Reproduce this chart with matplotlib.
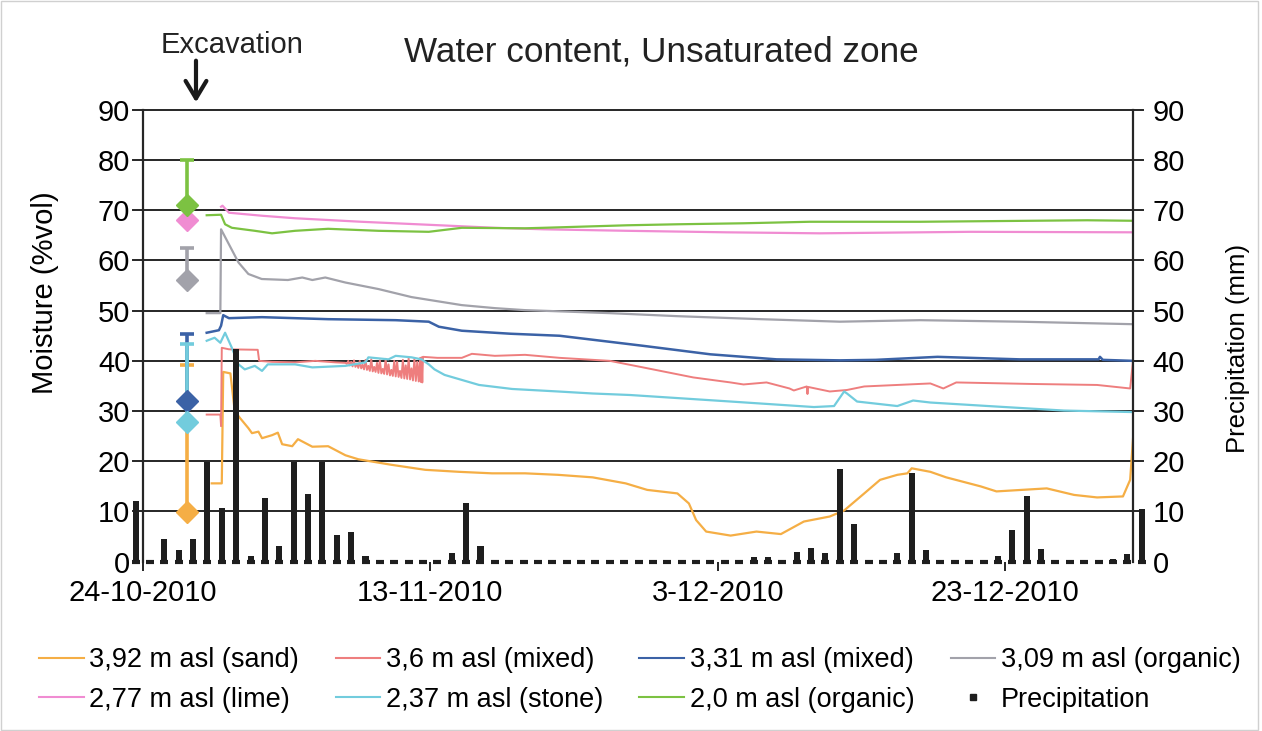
import numpy as np
import matplotlib
matplotlib.use('Agg')
import matplotlib.pyplot as plt
from matplotlib.lines import Line2D
from matplotlib.patches import Rectangle

plt.rcParams['font.family'] = ['Liberation Sans', 'DejaVu Sans']

# x = days after 24-10-2010
tick_days = [0, 20, 40, 60]
tick_labels = ['24-10-2010', '13-11-2010', '3-12-2010', '23-12-2010']

# daily precipitation (mm), one value per day starting the day before 24-10
precip = [12.0, 0, 4.6, 2.4, 4.6, 19.9, 10.6, 42.4, 1.1, 12.6, 3.2, 19.9, 13.5, 19.9, 5.4, 6.0, 1.1,
          0, 0, 0, 0, 0, 1.7, 11.7, 3.1,
          0, 0, 0, 0, 0, 0, 0, 0, 0, 0, 0, 0, 0, 0, 0, 0, 0, 0,
          1.0, 1.0, 0, 2.0, 2.8, 1.8, 18.5, 7.6, 0, 0, 1.7, 17.7, 2.3,
          0, 0, 0, 0, 1.1, 6.4, 13.0, 2.6, 0, 0, 0, 0, 0.5, 1.5, 10.5]
precip_days = np.arange(len(precip)) - 0.5

sand_d = [4.8, 5.5, 5.6, 6.1, 6.4, 6.77, 7.35, 7.6, 8.05, 8.3, 9.0, 9.4, 9.7, 10.4, 10.8, 11.8, 12.9,
          14.1, 15.0, 17.3, 19.65, 22.0, 24.3, 26.6, 28.9, 31.3, 33.6, 35.1, 37.2, 38.0, 38.5, 39.2,
          40.9, 42.7, 44.4, 46.0, 47.8, 48.8, 50.2, 51.3, 52.5, 53.2, 53.5, 54.8, 55.9, 58.3, 59.4,
          62.9, 64.8, 66.4, 68.2, 68.7, 68.9]
sand_v = [15.6, 15.6, 37.8, 37.5, 30.0, 28.6, 26.6, 25.6, 25.9, 24.6, 25.2, 25.7, 23.4, 23.0, 24.4, 22.9, 23.0,
          21.2, 20.4, 19.3, 18.3, 17.9, 17.6, 17.6, 17.3, 16.8, 15.6, 14.3, 13.6, 11.6, 8.3, 6.0,
          5.2, 6.0, 5.5, 8.0, 9.0, 10.2, 13.6, 16.3, 17.3, 17.6, 18.6, 17.9, 16.8, 15.0, 14.0,
          14.6, 13.3, 12.8, 13.0, 16.3, 24.5]

mix36_d = [4.45, 5.4, 5.45, 5.5, 6.0, 8.0, 8.1, 9.0, 10.6, 12.0, 13.4, 14.1,
           14.2, 14.3, 14.4, 14.5, 14.6, 14.7, 14.8, 14.9, 15.0, 15.1, 15.2, 15.3, 15.4, 15.5,
           15.6, 15.7, 15.8, 15.9, 16.0, 16.1, 16.2, 16.3, 16.4, 16.5, 16.6, 16.7, 16.8, 16.9,
           17.0, 17.1, 17.2, 17.3, 17.4, 17.5, 17.6, 17.7, 17.8, 17.9, 18.0, 18.1, 18.2, 18.3,
           18.4, 18.5, 18.6, 18.7, 18.8, 18.9, 19.0, 19.1, 19.2, 19.3, 19.35, 19.4, 19.45, 19.5,
           20.5, 22.2, 22.9, 24.5, 26.6, 29.0, 32.5, 34.8, 38.3, 40.9, 41.8, 43.4, 45.0, 45.3,
           46.2, 46.25, 46.3, 47.8, 49.0, 50.2, 54.8, 55.7, 56.6, 61.8, 66.4, 68.7, 68.9]
mix36_v = [29.3, 29.3, 27.0, 42.6, 42.3, 42.2, 40.0, 39.8, 39.7, 40.0, 39.7, 39.6,
           39.4, 40.0, 39.1, 39.8, 38.9, 40.1, 38.8, 39.5, 38.6, 40.0, 38.5, 39.2, 38.3, 40.2,
           38.2, 39.0, 38.0, 40.3, 37.9, 38.8, 37.8, 39.6, 37.6, 40.1, 37.5, 38.4, 37.4, 40.4,
           37.3, 39.3, 37.1, 38.2, 37.0, 40.0, 36.9, 39.8, 36.8, 38.0, 36.6, 40.2, 36.5, 39.1,
           36.4, 40.5, 36.3, 38.5, 36.1, 40.4, 36.0, 39.8, 35.9, 40.6, 35.8, 40.7, 35.7, 40.8,
           40.6, 40.6, 41.4, 41.0, 41.2, 40.6, 40.0, 38.7, 36.7, 35.7, 35.3, 35.7, 34.5, 34.1,
           34.9, 33.4, 34.8, 33.9, 34.2, 34.9, 35.5, 34.5, 35.7, 35.4, 35.2, 34.5, 40.0]

mix331_d = [4.45, 5.3, 5.45, 5.6, 6.0, 8.3, 12.9, 17.6, 19.9, 20.6, 22.2, 25.6, 29.0, 34.8, 39.5,
            44.1, 48.5, 51.0, 55.3, 61.0, 66.5, 66.6, 66.8, 68.9]
mix331_v = [45.6, 46.1, 47.0, 49.1, 48.5, 48.7, 48.3, 48.1, 47.8, 46.8, 46.0, 45.4, 45.0, 43.0, 41.3,
            40.3, 40.1, 40.2, 40.8, 40.3, 40.3, 40.8, 40.2, 40.0]

org309_d = [4.45, 5.4, 5.45, 6.0, 6.66, 7.35, 8.28, 10.1, 11.1, 11.8, 12.7, 14.1, 16.4, 18.7, 22.2,
            24.5, 26.6, 28.6, 32.5, 37.2, 43.0, 48.5, 54.1, 61.0, 68.9]
org309_v = [49.5, 49.5, 66.2, 63.2, 59.6, 57.3, 56.3, 56.1, 56.6, 56.1, 56.6, 55.6, 54.3, 52.7, 51.1,
            50.5, 50.1, 49.9, 49.5, 48.9, 48.3, 47.8, 48.1, 47.8, 47.3]

lime_d = [5.45, 5.55, 6.0, 8.3, 10.6, 15.2, 19.9, 24.5, 27.9, 33.7, 40.6, 47.1, 57.6, 68.9]
lime_v = [70.7, 70.9, 69.5, 68.9, 68.4, 67.7, 67.1, 66.5, 66.2, 65.9, 65.6, 65.4, 65.7, 65.6]

stone_d = [4.45, 5.0, 5.4, 5.73, 6.2, 6.66, 7.1, 7.8, 8.3, 8.7, 10.6, 11.8, 14.1, 15.5, 15.7, 17.1,
           17.6, 18.7, 19.4, 19.9, 20.3, 21.0, 22.2, 23.4, 25.7, 28.9, 31.3, 33.9, 40.9, 46.7, 48.1,
           48.8, 49.0, 49.7, 52.5, 53.6, 54.8, 59.4, 64.1, 68.9]
stone_v = [44.0, 44.6, 43.6, 45.6, 42.6, 39.3, 38.3, 39.0, 38.0, 39.3, 39.3, 38.7, 39.0, 39.7, 40.7, 40.3,
           41.0, 40.7, 40.3, 39.3, 38.3, 37.2, 36.2, 35.2, 34.4, 33.9, 33.5, 33.2, 31.9, 30.8, 31.0,
           33.9, 33.5, 31.9, 31.0, 32.1, 31.7, 30.9, 30.1, 29.8]

org20_d = [4.45, 5.45, 5.73, 6.2, 7.8, 9.0, 10.6, 12.9, 16.4, 19.9, 22.2, 26.6, 27.9, 33.7, 37.2, 41.8,
           46.4, 54.1, 65.7, 68.9]
org20_v = [69.0, 69.1, 67.2, 66.5, 65.9, 65.4, 65.9, 66.3, 65.9, 65.7, 66.5, 66.4, 66.5, 67.0, 67.2, 67.4,
           67.7, 67.7, 68.0, 67.9]

# reference measurements before excavation (value, upper error)
ref_day = 3.06
ref_sand = (9.8, 29.4)
ref_mix331 = (32.0, 13.3)
ref_stone = (27.9, 15.5)
ref_org309 = (56.1, 6.3)
ref_lime = (68.1, 0.0)
ref_org20 = (71.1, 8.9)

c_sand = '#F5AE45'
c_mix36 = '#EE7E7E'
c_mix331 = '#3B62A6'
c_org309 = '#A2A2AA'
c_lime = '#F08CD2'
c_stone = '#72CCDD'
c_org20 = '#7CC242'
c_bar = '#1e1e1e'
c_grid = '#262626'

fig = plt.figure(figsize=(12.62, 7.31), dpi=100)
ax = fig.add_axes([0.1131, 0.2316, 0.7847, 0.6182])
ax.set_xlim(0, 68.9)
ax.set_ylim(0, 90)

for v in range(10, 100, 10):
    ax.axhline(v, xmin=-0.0095, xmax=1.0101, color=c_grid, lw=1.4, clip_on=False, zorder=1)

ax.plot(sand_d, sand_v, color=c_sand, lw=1.6, zorder=3)
ax.plot(mix36_d, mix36_v, color=c_mix36, lw=1.4, zorder=3)
ax.plot(mix331_d, mix331_v, color=c_mix331, lw=1.8, zorder=3)
ax.plot(org309_d, org309_v, color=c_org309, lw=1.6, zorder=3)
ax.plot(lime_d, lime_v, color=c_lime, lw=1.6, zorder=3)
ax.plot(stone_d, stone_v, color=c_stone, lw=1.6, zorder=3)
ax.plot(org20_d, org20_v, color=c_org20, lw=1.6, zorder=3)

for (val, up), c in [(ref_sand, c_sand), (ref_mix331, c_mix331), (ref_stone, c_stone),
                     (ref_org309, c_org309), (ref_lime, c_lime), (ref_org20, c_org20)]:
    ax.errorbar([ref_day], [val], yerr=[[0], [up]], fmt='D', ms=11, color=c, ecolor=c,
                elinewidth=2.6, capsize=5, capthick=2.6, zorder=4)

ax.set_xticks(tick_days)
ax.set_xticklabels(tick_labels)
ax.set_yticks(range(0, 100, 10))
ax.tick_params(axis='x', direction='out', length=6.5, width=1.4, color=c_grid, pad=6, labelsize=21)
ax.tick_params(axis='y', length=0, pad=9, labelsize=21)
for s in ['top', 'bottom', 'right']:
    ax.spines[s].set_visible(False)
ax.spines['left'].set_linewidth(1.6)
ax.spines['left'].set_color(c_grid)

ax2 = ax.twinx()
ax2.set_ylim(0, 90)
ax2.bar(precip_days, precip, width=0.42, color=c_bar, clip_on=False, zorder=3)
ax2.plot(precip_days, np.zeros(len(precip)), ls='none', marker='_', ms=6, mew=3,
         color=c_bar, clip_on=False, zorder=3)
ax2.set_yticks(range(0, 100, 10))
ax2.tick_params(axis='y', length=0, pad=14, labelsize=21)
for s in ['top', 'bottom', 'left']:
    ax2.spines[s].set_visible(False)
ax2.spines['right'].set_linewidth(1.6)
ax2.spines['right'].set_color(c_grid)

fig.text(0.0357, 0.600, 'Moisture (%vol)', rotation=90, ha='center', va='center', fontsize=21)
fig.text(0.981, 0.524, 'Precipitation (mm)', rotation=90, ha='center', va='center', fontsize=18.5)
fig.text(0.5238, 0.929, 'Water content, Unsaturated zone', ha='center', va='center', fontsize=25.3, color='#222222')
fig.text(0.1842, 0.938, 'Excavation', ha='center', va='center', fontsize=21, color='#222222')
ax.annotate('', xy=(0.1553, 0.860), xytext=(0.1553, 0.917), xycoords='figure fraction',
            textcoords='figure fraction',
            arrowprops=dict(arrowstyle='->,head_length=0.5,head_width=0.3', lw=3, color='#1a1a1a',
                            mutation_scale=25, shrinkA=0, shrinkB=0))

h = {
    '3,92 m asl (sand)': Line2D([], [], color=c_sand, lw=1.5),
    '3,6 m asl (mixed)': Line2D([], [], color=c_mix36, lw=1.5),
    '3,31 m asl (mixed)': Line2D([], [], color=c_mix331, lw=1.5),
    '3,09 m asl (organic)': Line2D([], [], color=c_org309, lw=1.5),
    '2,77 m asl (lime)': Line2D([], [], color=c_lime, lw=1.5),
    '2,37 m asl (stone)': Line2D([], [], color=c_stone, lw=1.5),
    '2,0 m asl (organic)': Line2D([], [], color=c_org20, lw=1.5),
    'Precipitation': Line2D([], [], ls='none', marker='s', ms=4, color=c_bar),
}
order = ['3,92 m asl (sand)', '2,77 m asl (lime)', '3,6 m asl (mixed)', '2,37 m asl (stone)',
         '3,31 m asl (mixed)', '2,0 m asl (organic)', '3,09 m asl (organic)', 'Precipitation']
fig.legend([h[k] for k in order], order, ncol=4, loc='center', bbox_to_anchor=(0.507, 0.070),
           frameon=False, fontsize=19.5, handlelength=1.65, handletextpad=0.2, columnspacing=1.35,
           labelspacing=0.5, borderpad=0)

fig.patches.append(Rectangle((0.001, 0.002), 0.996, 0.996, transform=fig.transFigure,
                             fill=False, ec='#d0d0d0', lw=1))

fig.savefig('out.png', dpi=100)
